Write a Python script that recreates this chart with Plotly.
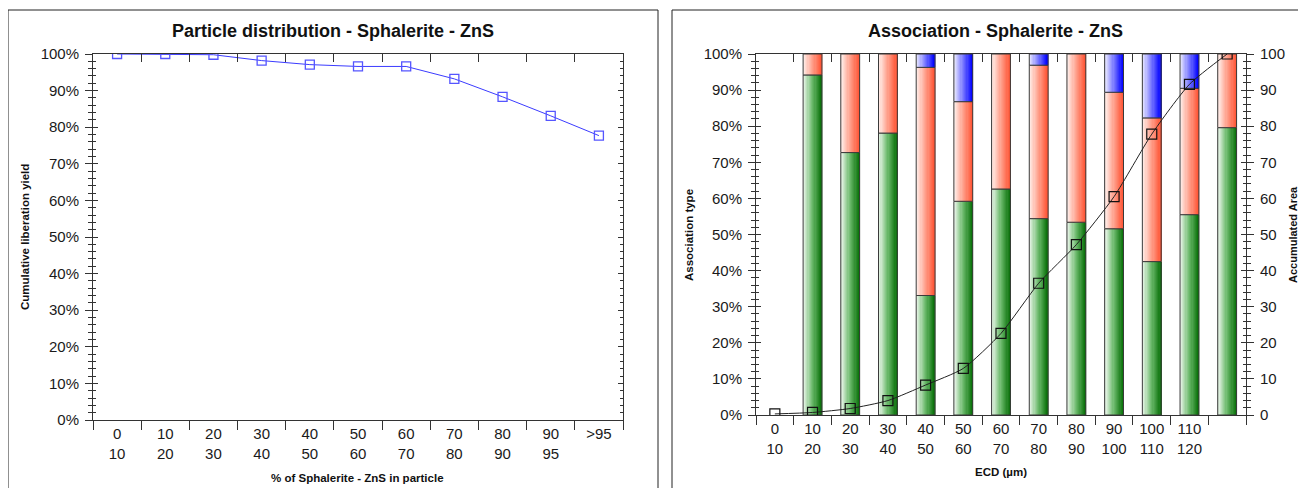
import plotly.graph_objects as go

# ---------------- data ----------------
left_categories = ["0<br>10", "10<br>20", "20<br>30", "30<br>40", "40<br>50", "50<br>60",
                   "60<br>70", "70<br>80", "80<br>90", "90<br>95", ">95"]
liberation_yield = [100.0, 100.0, 99.8, 98.2, 97.1, 96.6, 96.6, 93.2, 88.3, 83.1, 77.7]

right_categories = ["0<br>10", "10<br>20", "20<br>30", "30<br>40", "40<br>50", "50<br>60",
                    "60<br>70", "70<br>80", "80<br>90", "90<br>100", "100<br>110", "110<br>120", " "]
assoc_green = [0, 94.2, 72.7, 78.1, 33.1, 59.2, 62.6, 54.4, 53.4, 51.6, 42.5, 55.5, 79.6]
assoc_red = [0, 5.8, 27.3, 21.9, 63.2, 27.6, 37.4, 42.5, 46.6, 37.8, 39.8, 35.0, 20.4]
assoc_blue = [0, 0, 0, 0, 3.7, 13.2, 0, 3.1, 0, 10.6, 17.7, 9.5, 0]
accumulated_area = [0.3, 0.7, 1.8, 4.0, 8.3, 12.9, 22.6, 36.5, 47.2, 60.5, 77.8, 91.6, 100.0]

# ---------------- helpers ----------------
PAGE_OFF = 8                    # default body margin of the html page
W, H = 1306 - PAGE_OFF, 488 - PAGE_OFF
FONT = "Liberation Sans, Arial, sans-serif"
TXT = "#1a1a1a"
AX = "#333333"


def px_x(x):
    return (x - PAGE_OFF) / W


def px_y(y):
    return 1 - (y - PAGE_OFF) / H


def hex2rgb(h):
    h = h.lstrip("#")
    return tuple(int(h[i:i + 2], 16) for i in (0, 2, 4))


def grad(stops, t):
    for (t0, c0), (t1, c1) in zip(stops[:-1], stops[1:]):
        if t <= t1:
            u = (t - t0) / (t1 - t0)
            a, b = hex2rgb(c0), hex2rgb(c1)
            return "rgb(%d,%d,%d)" % tuple(round(a[i] + (b[i] - a[i]) * u) for i in range(3))
    return stops[-1][1]


fig = go.Figure()

# ---------------- left chart ----------------
fig.add_trace(go.Scatter(
    x=left_categories, y=liberation_yield, mode="lines+markers",
    line=dict(color="#3b3bff", width=1),
    marker=dict(symbol="square-open", size=9, color="#5555ff", line=dict(width=1.3)),
    xaxis="x", yaxis="y", cliponaxis=True, showlegend=False, hoverinfo="skip"))

# ---------------- right chart (gradient bars) ----------------
BW = 0.5
NS = 16
segments = [
    (assoc_green, [0] * len(assoc_green),
     [(0, "#f6fbf6"), (0.5, "#6dbb6d"), (1, "#087008")]),
    (assoc_red, assoc_green,
     [(0, "#fff6f3"), (0.5, "#ffa28e"), (1, "#ff5434")]),
    (assoc_blue, [g + r for g, r in zip(assoc_green, assoc_red)],
     [(0, "#f2f2ff"), (0.5, "#7b7bff"), (1, "#0000ff")]),
]
for vals, base, stops in segments:
    yv = [v if v > 0 else None for v in vals]
    for k in range(NS):
        t = (k + 0.5) / NS
        fig.add_trace(go.Bar(
            x=right_categories, y=yv, base=base,
            width=BW / NS * 1.25, offset=-BW / 2 + k * BW / NS,
            marker=dict(color=grad(stops, t), line=dict(width=0)),
            xaxis="x2", yaxis="y2", showlegend=False, hoverinfo="skip"))
    fig.add_trace(go.Bar(
        x=right_categories, y=yv, base=base, width=BW, offset=-BW / 2,
        marker=dict(color="rgba(0,0,0,0)", line=dict(color="#3a3a3a", width=1)),
        xaxis="x2", yaxis="y2", showlegend=False, hoverinfo="skip"))

fig.add_trace(go.Scatter(
    x=right_categories, y=accumulated_area, mode="lines+markers",
    line=dict(color="#222222", width=1, shape="spline", smoothing=0.6),
    marker=dict(symbol="square-open", size=10, color="#111111", line=dict(width=1.2)),
    xaxis="x2", yaxis="y4", cliponaxis=True, showlegend=False, hoverinfo="skip"))

# invisible helper traces so that overlay tick axes are drawn
helpers = [("x3", "y"), ("x", "y3"), ("x", "y5"), ("x4", "y2"), ("x2", "y6"), ("x2", "y7")]
for xa, ya in helpers:
    cats = left_categories if xa in ("x", "x3") else right_categories
    fig.add_trace(go.Scatter(x=cats, y=[None] * len(cats), xaxis=xa, yaxis=ya,
                             showlegend=False, hoverinfo="skip"))

# ---------------- axes ----------------
tickfont = dict(family=FONT, size=15, color=TXT)
L_dom_x = [px_x(93), px_x(623)]
L_dom_y = [px_y(420), px_y(54)]
R_dom_x = [px_x(756), px_x(1246)]
R_dom_y = [px_y(415), px_y(54)]

common_x = dict(type="category", tickson="boundaries", ticks="outside", ticklen=9,
                tickcolor=AX, showline=True, linecolor=AX, linewidth=1, showgrid=False,
                zeroline=False, tickfont=tickfont, fixedrange=True, automargin=False)
common_y = dict(range=[0, 100], dtick=10, ticks="outside", ticklen=7, tickcolor=AX,
                showline=True, linecolor=AX, linewidth=1, showgrid=False, zeroline=False,
                tickfont=tickfont, minor=dict(dtick=2, ticks="outside", ticklen=4, tickcolor=AX),
                fixedrange=True, automargin=False, ticklabelstandoff=3)
inside_y = dict(common_y, ticks="inside", ticklen=5, showticklabels=False,
                minor=dict(dtick=2, ticks="inside", ticklen=3, tickcolor=AX))
top_x = dict(common_x, side="top", ticks="inside", showticklabels=False, ticklen=8)

fig.update_layout(
    xaxis=dict(common_x, domain=L_dom_x, anchor="y", range=[-0.5, 10.5]),
    yaxis=dict(common_y, domain=L_dom_y, anchor="x", ticksuffix="%"),
    xaxis3=dict(top_x, overlaying="x", anchor="y", range=[-0.5, 10.5]),
    yaxis3=dict(inside_y, overlaying="y", side="right", anchor="x"),
    yaxis5=dict(inside_y, overlaying="y", side="left", anchor="x"),
    xaxis2=dict(common_x, domain=R_dom_x, anchor="y2", range=[-0.5, 12.5]),
    yaxis2=dict(common_y, domain=R_dom_y, anchor="x2", ticksuffix="%"),
    xaxis4=dict(top_x, overlaying="x2", anchor="y2", range=[-0.5, 12.5]),
    yaxis4=dict(common_y, overlaying="y2", side="right", anchor="x2"),
    yaxis6=dict(inside_y, overlaying="y2", side="left", anchor="x2"),
    yaxis7=dict(inside_y, overlaying="y2", side="right", anchor="x2"),
    barmode="overlay",
    width=W, height=H,
    margin=dict(l=0, r=0, t=0, b=0, autoexpand=False),
    paper_bgcolor="white", plot_bgcolor="white",
    font=dict(family=FONT, color=TXT),
)

# ---------------- text ----------------
ann = [
    dict(text="<b>Particle distribution - Sphalerite - ZnS</b>", x=px_x(333), y=px_y(31), size=18),
    dict(text="<b>Association - Sphalerite - ZnS</b>", x=px_x(995), y=px_y(31), size=18),
    dict(text="<b>% of Sphalerite - ZnS in particle</b>", x=px_x(357), y=px_y(478), size=11.5),
    dict(text="<b>ECD (µm)</b>", x=px_x(1001), y=px_y(472), size=11.5),
    dict(text="<b>Cumulative liberation yield</b>", x=px_x(25), y=px_y(237), size=11.5, angle=-90),
    dict(text="<b>Association type</b>", x=px_x(689), y=px_y(235), size=11.5, angle=-90),
    dict(text="<b>Accumulated Area</b>", x=px_x(1293), y=px_y(235), size=11, angle=-90),
]
for a in ann:
    fig.add_annotation(text=a["text"], x=a["x"], y=a["y"], xref="paper", yref="paper",
                       showarrow=False, xanchor="center", yanchor="middle",
                       textangle=a.get("angle", 0), borderpad=0,
                       font=dict(family=FONT, size=a["size"], color="#111111"))

# panel frames
fig.add_shape(type="rect", xref="paper", yref="paper", x0=px_x(8), x1=px_x(658),
              y0=px_y(500), y1=px_y(10), line=dict(color="#222222", width=1), layer="below")
fig.add_shape(type="rect", xref="paper", yref="paper", x0=px_x(672), x1=px_x(1320),
              y0=px_y(500), y1=px_y(10), line=dict(color="#222222", width=1), layer="below")

fig.write_html("out.html")
